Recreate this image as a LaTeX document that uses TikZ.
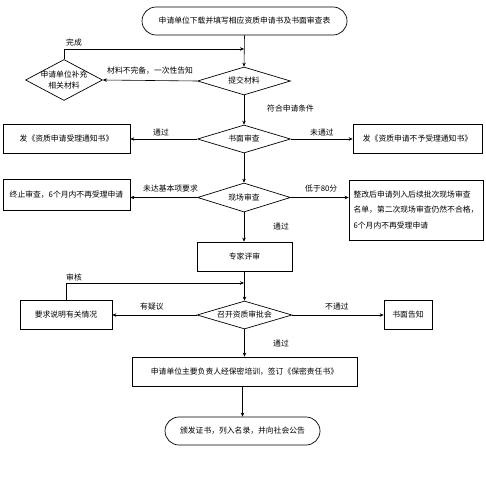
\documentclass[tikz,border=0pt]{standalone}
\usepackage{fontspec}
\setmainfont{Noto Sans CJK SC}
\usetikzlibrary{shapes.geometric,arrows.meta}
\tikzset{
  base/.style={draw,line width=0.7pt,font=\fontsize{7.8}{9}\selectfont,inner sep=0pt},
  term/.style={base,rectangle,rounded corners=14pt},
  proc/.style={base,rectangle},
  dec/.style={base,diamond},
  lbl/.style={font=\fontsize{7.8}{9}\selectfont,inner sep=0pt},
  arr/.style={line width=0.6pt,-{Stealth[length=4pt,width=3.5pt]}},
}
\begin{document}
\begin{tikzpicture}[x=1pt,y=-1pt]
\useasboundingbox[fill=white] (0,0) rectangle (486,481);
% nodes
\node[term,minimum width=205,minimum height=28] (start) at (244.5,21) {申请单位下载并填写相应资质申请书及书面审查表};
\node[dec,minimum width=93,minimum height=28] (submit) at (244,81) {\makebox[0pt]{提交材料}};
\node[dec,minimum width=77,minimum height=41] (supp) at (64,80) {\makebox[0pt]{\shortstack{申请单位补充\\相关材料}}};
\node[dec,minimum width=93,minimum height=28] (paper) at (244,139) {\makebox[0pt]{书面审查}};
\node[proc,minimum width=127,minimum height=29] (accept) at (66.5,138.5) {发《资质申请受理通知书》};
\node[proc,minimum width=129,minimum height=29] (reject) at (417.5,138.5) {发《资质申请不予受理通知书》};
\node[dec,minimum width=93,minimum height=29] (site) at (244,197.5) {\makebox[0pt]{现场审查}};
\node[proc,minimum width=127,minimum height=31] (stop) at (66.5,194.5) {终止审查，6个月内不再受理申请};
\node[proc,minimum width=134,minimum height=60,align=left,font=\fontsize{7.8}{15.5}\selectfont] (redo) at (416,210) {整改后申请列入后续批次现场审查\\名单，第二次现场审查仍然不合格，\\6个月内不再受理申请};
\node[proc,minimum width=95,minimum height=29] (expert) at (244.5,256.5) {专家评审};
\node[dec,minimum width=95,minimum height=28] (meet) at (244.5,315) {\makebox[0pt]{召开资质审批会}};
\node[proc,minimum width=92,minimum height=29] (explain) at (66,314.5) {要求说明有关情况};
\node[proc,minimum width=48,minimum height=29] (notify) at (408,314.5) {书面告知};
\node[proc,minimum width=225,minimum height=29] (train) at (244.5,371.5) {申请单位主要负责人经保密培训，签订《保密责任书》};
\node[term,minimum width=155,minimum height=28] (final) at (242.5,431) {颁发证书，列入名录，并向社会公告};
% coordinates for loop ends
\coordinate (j1) at (244,49);
\coordinate (j2) at (244,283);
% connectors
\draw[arr] (start.south) -- (submit.north);
\draw[arr] (supp.north) |- (j1);
\draw[arr] (submit.west) -- (supp.east);
\draw[arr] (submit.south) -- (paper.north);
\draw[arr] (paper.west) -- (paper.west -| accept.east);
\draw[arr] (paper.east) -- (paper.east -| reject.west);
\draw[arr] (paper.south) -- (site.north);
\draw[arr] (site.west) -- (site.west -| stop.east);
\draw[arr] (site.east) -- (site.east -| redo.west);
\draw[arr] (site.south) -- (site.south |- expert.north);
\draw[arr] (expert.south) -- (expert.south |- meet.north);
\draw[arr] (explain.north) |- (j2);
\draw[arr] (meet.west) -- (meet.west -| explain.east);
\draw[arr] (meet.east) -- (meet.east -| notify.west);
\draw[arr] (meet.south) -- (meet.south |- train.north);
\draw[arr] (train.south) -- (train.south -| final.north) -- (final.north);
% labels
\node[lbl,anchor=west] (l1) at (66,43) {完成};
\node[lbl,anchor=west] (l2) at (107,71) {材料不完备，一次性告知};
\node[lbl,anchor=west] (l3) at (267,109) {符合申请条件};
\node[lbl,anchor=west] (l4) at (153,133) {通过};
\node[lbl,anchor=west] (l5) at (310,133) {未通过};
\node[lbl,anchor=west] (l6) at (143,189) {未达基本项要求};
\node[lbl,anchor=west] (l7) at (305,189) {低于80分};
\node[lbl,anchor=west] (l8) at (273,227) {通过};
\node[lbl,anchor=west] (l9) at (66,278) {审核};
\node[lbl,anchor=west] (l10) at (140,307) {有疑议};
\node[lbl,anchor=west] (l11) at (325,307) {不通过};
\node[lbl,anchor=west] (l12) at (273,344) {通过};
\end{tikzpicture}
\end{document}
